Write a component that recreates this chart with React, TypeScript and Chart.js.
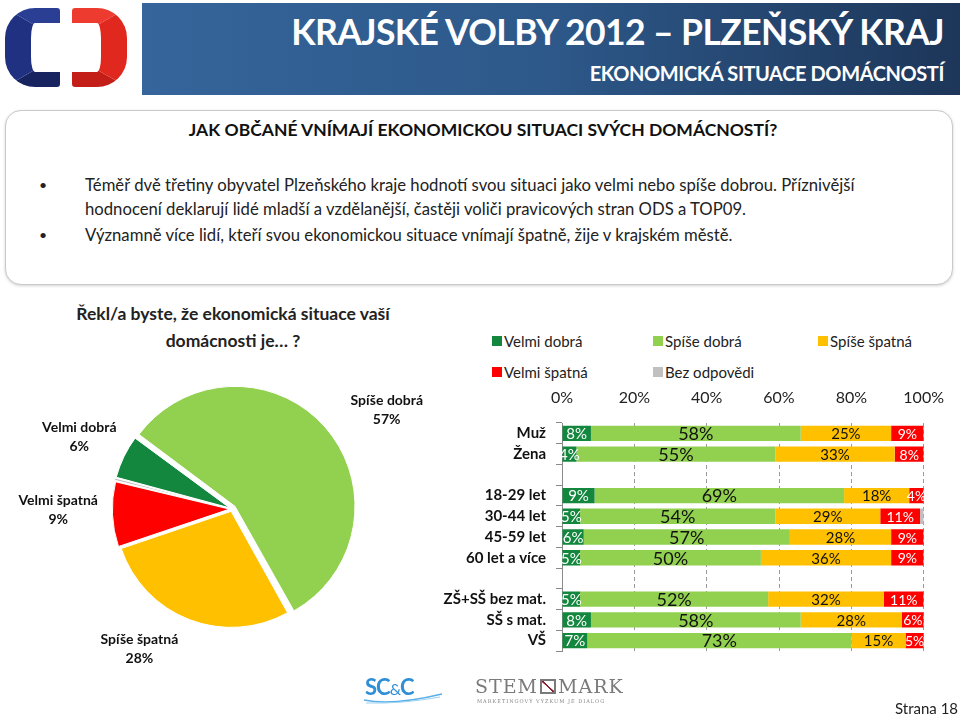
import React, { useEffect, useRef } from 'react';
import { Chart, registerables } from 'chart.js';

Chart.register(...registerables);

// ---------- DATA ----------
const SERIES = ['Velmi dobrá', 'Spíše dobrá', 'Spíše špatná', 'Velmi špatná', 'Bez odpovědi'];
const COLORS = ['#12873d', '#92d050', '#ffc000', '#ff0000', '#c0c0c0'];

const PIE_VALUES = [6, 57, 28, 9, 0.4];
const PIE_LABELS = ['Velmi dobrá', 'Spíše dobrá', 'Spíše špatná', 'Velmi špatná', ''];

const CATEGORIES = ['Muž', 'Žena', '', '18-29 let', '30-44 let', '45-59 let', '60 let a více', '', 'ZŠ+SŠ bez mat.', 'SŠ s mat.', 'VŠ'];
const VELMI_DOBRA = [8, 4, null, 9, 5, 6, 5, null, 5, 8, 7];
const SPISE_DOBRA = [58, 55, null, 69, 54, 57, 50, null, 52, 58, 73];
const SPISE_SPATNA = [25, 33, null, 18, 29, 28, 36, null, 32, 28, 15];
const VELMI_SPATNA = [9, 8, null, 4, 11, 9, 9, null, 11, 6, 5];
const BEZ_ODPOVEDI = [0, 0, null, 0, 1, 0, 0, null, 0, 0, 0];
const X_TICKS = [0, 20, 40, 60, 80, 100];

// label styling per series (not data)
const LABEL_SIZES = [15, 18, 15, 14, 0];
const LABEL_COLORS = ['#ffffff', '#111111', '#111111', '#ffffff', '#111111'];
// small nudges of the pie's outside labels (Excel "best fit" placement)
const PIE_LABEL_NUDGE = [
  [4, 4],
  [24, 16],
  [-30, -22],
  [0, -7],
  [0, 0],
];

const FONT = 'Lato, "Open Sans", sans-serif';

const barLabelPlugin = {
  id: 'barLabels',
  afterDatasetsDraw(chart: any) {
    const ctx = chart.ctx;
    ctx.save();
    ctx.textAlign = 'center';
    ctx.textBaseline = 'middle';
    chart.data.datasets.forEach((ds: any, di: number) => {
      const size = LABEL_SIZES[di];
      if (!size) return;
      const meta = chart.getDatasetMeta(di);
      ctx.font = `${size}px ${FONT}`;
      ctx.fillStyle = LABEL_COLORS[di];
      meta.data.forEach((el: any, i: number) => {
        const v = ds.data[i];
        if (v === null || v === undefined || v === 0) return;
        const c = el.getCenterPoint();
        ctx.fillText(`${v}%`, c.x, c.y + 1);
      });
    });
    ctx.restore();
  },
};

const pieLabelPlugin = {
  id: 'pieLabels',
  afterDatasetsDraw(chart: any) {
    const ctx = chart.ctx;
    const meta = chart.getDatasetMeta(0);
    const ds = chart.data.datasets[0];
    ctx.save();
    ctx.textAlign = 'center';
    ctx.textBaseline = 'middle';
    ctx.font = `bold 14px ${FONT}`;
    ctx.fillStyle = '#111';
    meta.data.forEach((arc: any, i: number) => {
      const name = PIE_LABELS[i];
      if (!name) return;
      const mid = (arc.startAngle + arc.endAngle) / 2;
      const r = arc.outerRadius + 58;
      const x = arc.x + Math.cos(mid) * r + PIE_LABEL_NUDGE[i][0];
      const y = arc.y + Math.sin(mid) * r + PIE_LABEL_NUDGE[i][1];
      ctx.fillText(name, x, y - 9.5);
      ctx.fillText(`${Math.round(ds.data[i])}%`, x, y + 9.5);
    });
    ctx.restore();
  },
};

function PieChart() {
  const ref = useRef<HTMLCanvasElement>(null);
  useEffect(() => {
    const chart = new Chart(ref.current as HTMLCanvasElement, {
      type: 'pie',
      data: {
        labels: SERIES,
        datasets: [
          {
            data: PIE_VALUES,
            backgroundColor: COLORS,
            borderColor: '#ffffff',
            borderWidth: 1,
            offset: [10, 16, 10, 10, 10],
            radius: 116,
          } as any,
        ],
      },
      options: {
        responsive: false,
        animation: false,
        rotation: 285,
        layout: { padding: { left: 24, top: 18 } },
        plugins: { legend: { display: false }, tooltip: { enabled: false } },
      },
      plugins: [pieLabelPlugin],
    });
    return () => chart.destroy();
  }, []);
  return (
    <canvas
      ref={ref}
      width={440}
      height={420}
      style={{ position: 'absolute', left: 0, top: 290, width: 440, height: 420 }}
    />
  );
}

function BarChart() {
  const ref = useRef<HTMLCanvasElement>(null);
  useEffect(() => {
    const series = [VELMI_DOBRA, SPISE_DOBRA, SPISE_SPATNA, VELMI_SPATNA, BEZ_ODPOVEDI];
    const chart = new Chart(ref.current as HTMLCanvasElement, {
      type: 'bar',
      data: {
        labels: CATEGORIES,
        datasets: series.map((d, i) => ({
          label: SERIES[i],
          data: d,
          backgroundColor: COLORS[i],
          borderWidth: 0,
          barPercentage: 0.74,
          categoryPercentage: 1.0,
        })) as any,
      },
      options: {
        indexAxis: 'y',
        responsive: false,
        animation: false,
        layout: { padding: { right: 36, bottom: 8, top: 0, left: 0 } },
        plugins: { legend: { display: false }, tooltip: { enabled: false } },
        scales: {
          x: {
            position: 'top',
            stacked: true,
            min: 0,
            max: 100,
            afterBuildTicks: (s: any) => {
              s.ticks = X_TICKS.map((v) => ({ value: v }));
            },
            ticks: {
              callback: (v: any) => `${v}%`,
              font: { family: FONT, size: 16 },
              color: '#222',
              padding: 16,
              maxRotation: 0,
            },
            grid: { color: '#9a9a9a', drawTicks: false, lineWidth: 1 },
            border: { display: false, dash: [4, 3] },
            afterFit: (s: any) => {
              s.height = 43;
            },
          },
          y: {
            stacked: true,
            ticks: {
              autoSkip: false,
              font: { family: FONT, size: 15, weight: 'bold' },
              color: '#111',
              padding: 10,
            },
            grid: { drawOnChartArea: false, tickLength: 6, color: '#8a8a8a' },
            border: { color: '#8a8a8a' },
            afterFit: (s: any) => {
              s.width = 122;
            },
          },
        } as any,
      },
      plugins: [barLabelPlugin],
    });
    return () => chart.destroy();
  }, []);
  return (
    <canvas
      ref={ref}
      width={520}
      height={290}
      style={{ position: 'absolute', left: 440, top: 380, width: 520, height: 290 }}
    />
  );
}

const abs = (s: React.CSSProperties): React.CSSProperties => ({ position: 'absolute', ...s });

function Legend() {
  const items = [
    { i: 0, x: 492, y: 341 },
    { i: 1, x: 653, y: 341 },
    { i: 2, x: 818, y: 341 },
    { i: 3, x: 492, y: 372 },
    { i: 4, x: 653, y: 372 },
  ];
  return (
    <>
      {items.map((it) => (
        <div key={it.i}>
          <div style={abs({ left: it.x, top: it.y - 5, width: 10, height: 10, background: COLORS[it.i] })} />
          <div
            style={abs({
              left: it.x + 12,
              top: it.y - 10,
              fontFamily: FONT,
              fontSize: 15,
              lineHeight: '20px',
              color: '#222',
              whiteSpace: 'nowrap',
            })}
          >
            {SERIES[it.i]}
          </div>
        </div>
      ))}
    </>
  );
}

function Header() {
  return (
    <>
      {/* CT logo */}
      <div
        style={abs({
          left: 5,
          top: 8,
          width: 55,
          height: 79,
          boxSizing: 'border-box',
          borderLeft: '26px solid #1f3180',
          borderTop: '15px solid #2a3f93',
          borderBottom: '15px solid #17245f',
          borderRadius: '30px 3px 3px 30px',
        })}
      />
      <div
        style={abs({
          left: 72,
          top: 8,
          width: 55,
          height: 79,
          boxSizing: 'border-box',
          borderRight: '26px solid #e0281f',
          borderTop: '15px solid #ee3b30',
          borderBottom: '15px solid #c41e18',
          borderRadius: '3px 30px 30px 3px',
        })}
      />
      {/* banner */}
      <div
        style={abs({
          left: 142,
          top: 3,
          width: 818,
          height: 92,
          background: 'linear-gradient(to right, #35659b 0%, #2d5889 50%, #1d3659 100%)',
        })}
      />
      <div
        style={abs({
          right: 16,
          top: 11,
          fontFamily: FONT,
          fontWeight: 'bold',
          fontSize: 35.5,
          lineHeight: '42px',
          color: '#fff',
          whiteSpace: 'nowrap',
          letterSpacing: -0.6,
        })}
      >
        KRAJSKÉ VOLBY 2012 – PLZEŇSKÝ KRAJ
      </div>
      <div
        style={abs({
          right: 16,
          top: 60,
          fontFamily: FONT,
          fontWeight: 'bold',
          fontSize: 20,
          lineHeight: '26px',
          color: '#fff',
          whiteSpace: 'nowrap',
          letterSpacing: -0.4,
        })}
      >
        EKONOMICKÁ SITUACE DOMÁCNOSTÍ
      </div>
      {/* text box */}
      <div
        style={abs({
          left: 5,
          top: 110,
          width: 948,
          height: 175,
          boxSizing: 'border-box',
          border: '1px solid #c9c9c9',
          borderRadius: 16,
          boxShadow: '0 1px 3px rgba(0,0,0,0.18)',
          background: '#fff',
        })}
      />
      <div
        style={abs({
          left: 0,
          width: 966,
          top: 119,
          textAlign: 'center',
          fontFamily: FONT,
          fontWeight: 'bold',
          fontSize: 17.5,
          lineHeight: '22px',
          color: '#111',
          whiteSpace: 'nowrap',
        })}
      >
        JAK OBČANÉ VNÍMAJÍ EKONOMICKOU SITUACI SVÝCH DOMÁCNOSTÍ?
      </div>
      {[
        { y: 185, b: true, t: 'Téměř dvě třetiny obyvatel Plzeňského kraje hodnotí svou situaci jako velmi nebo spíše dobrou. Příznivější' },
        { y: 209, b: false, t: 'hodnocení deklarují lidé mladší a vzdělanější, častěji voliči pravicových stran ODS a TOP09.' },
        { y: 235, b: true, t: 'Významně více lidí, kteří svou ekonomickou situace vnímají špatně, žije v krajském městě.' },
      ].map((l, i) => (
        <div key={i}>
          {l.b && (
            <div style={abs({ left: 39, top: l.y - 10, fontFamily: FONT, fontSize: 14, lineHeight: '20px', color: '#222' })}>
              •
            </div>
          )}
          <div
            style={abs({
              left: 85,
              top: l.y - 11,
              fontFamily: FONT,
              fontSize: 16.7,
              lineHeight: '22px',
              color: '#222',
              whiteSpace: 'nowrap',
            })}
          >
            {l.t}
          </div>
        </div>
      ))}
    </>
  );
}

function Footer() {
  return (
    <>
      <div
        style={abs({
          left: 365,
          top: 674,
          fontFamily: FONT,
          fontWeight: 'bold',
          fontSize: 22,
          lineHeight: '26px',
          color: '#2f8fd6',
          letterSpacing: -1,
        })}
      >
        SC<span style={{ fontSize: 16, fontWeight: 'normal' }}>&amp;</span>C
      </div>
      <svg style={abs({ left: 362, top: 690, width: 82, height: 16 })} width={82} height={16}>
        <path d="M2 10 Q 30 16 80 4" stroke="#5ab0e8" strokeWidth={1.5} fill="none" />
        <path d="M4 13 Q 40 14 78 7" stroke="#9fd0f0" strokeWidth={1} fill="none" />
      </svg>
      <div
        style={abs({
          left: 475,
          top: 675,
          fontFamily: '"DejaVu Serif", "Liberation Serif", serif',
          fontSize: 19,
          lineHeight: '22px',
          color: '#7a7a7a',
          letterSpacing: 1,
          whiteSpace: 'nowrap',
        })}
      >
        STEM
        <span
          style={{
            display: 'inline-block',
            width: 16,
            height: 15,
            border: '2px solid #7a7a7a',
            boxSizing: 'border-box',
            verticalAlign: '-1px',
            margin: '0 2px',
            background: 'linear-gradient(to top right, transparent 44%, #8a2030 46%, #8a2030 54%, transparent 56%)',
          }}
        />
        MARK
      </div>
      <div
        style={abs({
          left: 477,
          top: 698,
          fontFamily: '"DejaVu Serif", serif',
          fontSize: 5,
          lineHeight: '6px',
          color: '#888',
          letterSpacing: 1,
          whiteSpace: 'nowrap',
        })}
      >
        MARKETINGOVÝ VÝZKUM JE DIALOG
      </div>
      <div
        style={abs({
          left: 895,
          top: 699,
          fontFamily: FONT,
          fontSize: 15,
          lineHeight: '18px',
          color: '#222',
          whiteSpace: 'nowrap',
        })}
      >
        Strana 18
      </div>
    </>
  );
}

export default function App() {
  return (
    <div
      style={{
        position: 'absolute',
        left: 0,
        top: 0,
        width: 960,
        height: 714,
        overflow: 'hidden',
        background: '#fff',
      }}
    >
      <Header />
      <div
        style={abs({
          left: 40,
          width: 386,
          top: 300,
          textAlign: 'center',
          fontFamily: FONT,
          fontWeight: 'bold',
          fontSize: 17.5,
          lineHeight: '27px',
          color: '#222',
        })}
      >
        Řekl/a byste, že ekonomická situace vaší
        <br />
        domácnosti je… ?
      </div>
      <PieChart />
      <Legend />
      <BarChart />
      <Footer />
    </div>
  );
}
